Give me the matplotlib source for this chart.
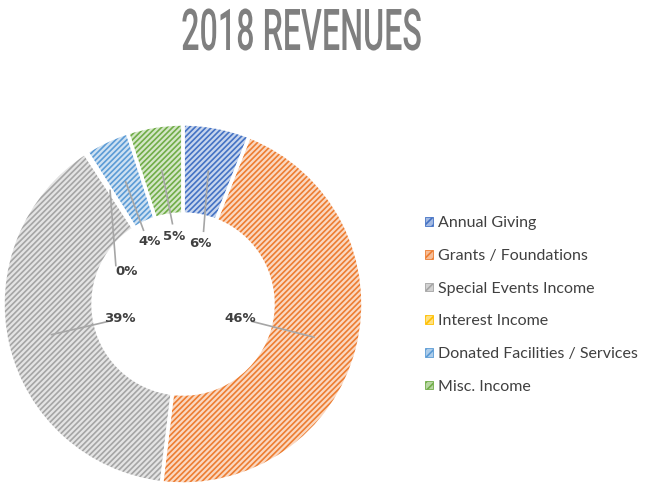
import numpy as np
import matplotlib
matplotlib.use("Agg")
import matplotlib.pyplot as plt
from matplotlib.patches import Patch
from matplotlib.patheffects import AbstractPathEffect
from matplotlib.transforms import Affine2D

categories = ["Annual Giving", "Grants / Foundations", "Special Events Income",
              "Interest Income", "Donated Facilities / Services", "Misc. Income"]
values = [6.0, 46.0, 39.0, 0.2, 4.0, 5.0]
pct_labels = ["6%", "46%", "39%", "0%", "4%", "5%"]
colors = ["#4472C4", "#ED7D31", "#A5A5A5", "#FFC000", "#5B9BD5", "#70AD47"]
title = "2018 REVENUES"

plt.rcParams['hatch.linewidth'] = 1.2


def lighten(c, f):
    r, g, b = matplotlib.colors.to_rgb(c)
    return (1 - f * (1 - r), 1 - f * (1 - g), 1 - f * (1 - b))


class HScale(AbstractPathEffect):
    def __init__(self, sx, xc):
        super().__init__()
        self.sx = sx
        self.xc = xc

    def draw_path(self, renderer, gc, tpath, affine, rgbFace=None):
        x0 = self.xc
        aff = affine + Affine2D().translate(-x0, 0).scale(self.sx, 1).translate(x0, 0)
        renderer.draw_path(gc, tpath, aff, rgbFace)


W, H = 656, 486
fig = plt.figure(figsize=(W / 100, H / 100), dpi=100)
ax = fig.add_axes([0, 0, 1, 1])

cx, cy, R = 183, H - 304, 180
wedges, _ = ax.pie(values, colors=[lighten(c, 0.3) for c in colors], startangle=90,
                   counterclock=False, center=(cx, cy), radius=R,
                   wedgeprops=dict(width=R * 0.5, linewidth=0))
for w, c in zip(wedges, colors):
    w.set_hatch('//////')
    w.set_edgecolor(c)
    w.set_linewidth(0)
# white separators
ax.pie(values, colors=['none'] * len(values), startangle=90, counterclock=False,
       center=(cx, cy), radius=R,
       wedgeprops=dict(width=R * 0.5, linewidth=2.5, edgecolor='white', fill=False))

ax.set_xlim(0, W)
ax.set_ylim(0, H)
ax.set_aspect('equal')
ax.axis('off')

# labels with leader lines
total = sum(values)
cum = np.cumsum([0] + values[:-1])
angle_shift = {0: -5, 3: 27.5, 4: 3, 5: -1.5}
label_r = {0: 0.35, 1: 0.326, 2: 0.36, 3: 0.36, 4: 0.395, 5: 0.38}
for i, (v, lab) in enumerate(zip(values, pct_labels)):
    mid = 90 - (cum[i] + v / 2) / total * 360
    la = np.deg2rad(mid + angle_shift.get(i, 0))
    ma = np.deg2rad(mid)
    lx, ly = cx + label_r[i] * R * np.cos(la), cy + label_r[i] * R * np.sin(la)
    sx, sy = cx + 0.75 * R * np.cos(ma), cy + 0.75 * R * np.sin(ma)
    ex, ey = cx + (label_r[i] + 0.07) * R * np.cos(la), cy + (label_r[i] + 0.07) * R * np.sin(la)
    ax.plot([sx, ex], [sy, ey], color="#A6A6A6", lw=1.2, zorder=3)
    ax.text(lx, ly, lab, ha='center', va='center', fontsize=9.5, fontweight='bold',
            color='#404040', family='DejaVu Sans', zorder=4)

handles = [Patch(facecolor=lighten(c, 0.5), edgecolor=c, hatch='////', linewidth=0.6) for c in colors]
leg = fig.legend(handles, categories, loc='upper left', bbox_to_anchor=(411 / W, 1 - 202 / H),
                 frameon=False, handlelength=0.45, handleheight=0.45, handletextpad=0.35,
                 labelspacing=1.17, prop=dict(family='Lato', size=11.5), labelcolor='#404040')

xc = 301.5
fig.text(xc / W, 1 - 50 / H, title, ha='center', va='baseline', fontsize=41.5,
         color='#7F7F7F', family='Roboto', fontweight='medium',
         path_effects=[HScale(0.56, xc)])

fig.savefig("out.png", dpi=100)
